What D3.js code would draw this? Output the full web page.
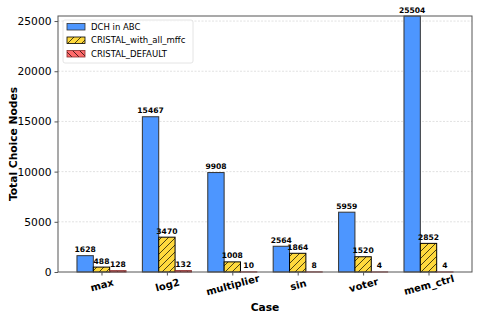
<!DOCTYPE html>
<html>
<head>
<meta charset="utf-8">
<script src="https://cdn.jsdelivr.net/npm/d3@7"></script>
<style>
  body { margin: 0; background: #fff; }
  svg { font-family: "DejaVu Sans", sans-serif; }
</style>
</head>
<body>
<svg id="chart" width="478" height="319"></svg>
<script>
const CASES = ["max", "log2", "multiplier", "sin", "voter", "mem_ctrl"]
const SERIES = ["DCH in ABC", "CRISTAL_with_all_mffc", "CRISTAL_DEFAULT"]
const DCH = [1628, 15467, 9908, 2564, 5959, 25504]
const ALL_MFFC = [488, 3470, 1008, 1864, 1520, 2852]
const DEFAULT = [128, 132, 10, 8, 4, 4]
const Y_TICKS = [0, 5000, 10000, 15000, 20000, 25000]

const VALUES = [DCH, ALL_MFFC, DEFAULT]
const FILLS = ["#4d96ff", "#ffd93d", "#ff6b6b"]
const EDGES = ["#333333", "#000000", "#8b2b2b"]
const HATCH = [null, "hatchFwd", "hatchBack"]

const svg = d3.select("#chart")
const PLOT_L = 58, PLOT_R = 472, PLOT_T = 16, PLOT_B = 272
const BAR_W = 0.25

const X_SCALE = d3.scaleLinear().domain([-0.665, 5.665]).range([PLOT_L, PLOT_R])
const Y_SCALE = d3.scaleLinear().domain([0, 25504]).range([PLOT_B, PLOT_T])

// hatch patterns
const defs = svg.append("defs")
function hatch(id, color, back) {
    const p = defs.append("pattern")
        .attr("id", id)
        .attr("patternUnits", "userSpaceOnUse")
        .attr("width", 7).attr("height", 7)
    p.append("rect").attr("width", 7).attr("height", 7).attr("fill", color)
    p.append("path").attr("d", back ? "M0,0 L7,7 M-7,0 L0,7 M0,-7 L7,0" : "M0,7 L7,0 M-7,7 L0,0 M7,7 L14,0")
        .attr("stroke", "#000").attr("stroke-width", 0.7)
}
hatch("hatchFwd", FILLS[1], false)
hatch("hatchBack", FILLS[2], true)

// grid
svg.append("g").selectAll("line")
    .data(Y_TICKS.slice(1))
    .join("line")
    .attr("x1", PLOT_L).attr("x2", PLOT_R)
    .attr("y1", d => Y_SCALE(d)).attr("y2", d => Y_SCALE(d))
    .attr("stroke", "#cccccc")
    .attr("stroke-width", 0.6)
    .attr("stroke-dasharray", "2,1.5")

// bars
VALUES.forEach((vals, s) => {
    const off = (s - 1) * BAR_W
    const g = svg.append("g")
    g.selectAll("rect")
        .data(vals)
        .join("rect")
        .attr("x", (d, i) => X_SCALE(i + off - BAR_W / 2))
        .attr("width", X_SCALE(BAR_W) - X_SCALE(0))
        .attr("y", d => Y_SCALE(d))
        .attr("height", d => PLOT_B - Y_SCALE(d))
        .attr("fill", HATCH[s] ? `url(#${HATCH[s]})` : FILLS[s])
        .attr("stroke", EDGES[s])
        .attr("stroke-width", 1)
    g.selectAll("text")
        .data(vals)
        .join("text")
        .attr("x", (d, i) => X_SCALE(i + off))
        .attr("y", d => Y_SCALE(d) - 3.5)
        .attr("text-anchor", "middle")
        .attr("font-size", 7.6)
        .attr("font-weight", "bold")
        .attr("fill", "#000")
        .text(d => d)
})

// frame
svg.append("rect")
    .attr("x", PLOT_L).attr("y", PLOT_T)
    .attr("width", PLOT_R - PLOT_L).attr("height", PLOT_B - PLOT_T)
    .attr("fill", "none")
    .attr("stroke", "#555")
    .attr("stroke-width", 1)

// y axis
const yAxis = svg.append("g")
    .attr("transform", `translate(${PLOT_L},0)`)
    .call(d3.axisLeft(Y_SCALE).tickValues(Y_TICKS).tickFormat(d3.format("d")).tickSize(3.5).tickPadding(3))
yAxis.select(".domain").remove()
yAxis.selectAll("line").attr("stroke", "#555")
yAxis.selectAll("text").attr("font-size", 10.7).attr("font-family", "DejaVu Sans").attr("fill", "#000")

// x axis
const xAxis = svg.append("g")
    .attr("transform", `translate(0,${PLOT_B})`)
    .call(d3.axisBottom(X_SCALE).tickValues(d3.range(CASES.length)).tickFormat(i => CASES[i]).tickSize(3.5))
xAxis.select(".domain").remove()
xAxis.selectAll("line").attr("stroke", "#555")
xAxis.selectAll("text")
    .attr("font-size", 10)
    .attr("font-weight", "bold")
    .attr("font-family", "DejaVu Sans")
    .attr("fill", "#000")
    .attr("text-anchor", "middle")
    .attr("y", 0)
    .attr("dy", "0.35em")
    .attr("transform", "translate(0,13) rotate(-15)")

// axis titles
svg.append("text")
    .attr("x", (PLOT_L + PLOT_R) / 2).attr("y", 311)
    .attr("text-anchor", "middle")
    .attr("font-size", 10.7)
    .attr("font-weight", "bold")
    .text("Case")
svg.append("text")
    .attr("transform", `translate(16.5,${(PLOT_T + PLOT_B) / 2}) rotate(-90)`)
    .attr("text-anchor", "middle")
    .attr("font-size", 10.7)
    .attr("font-weight", "bold")
    .text("Total Choice Nodes")

// legend
const legend = svg.append("g").attr("transform", "translate(63,20)")
legend.append("rect")
    .attr("width", 130).attr("height", 43)
    .attr("rx", 2)
    .attr("fill", "#fff").attr("fill-opacity", 0.8)
    .attr("stroke", "#dddddd").attr("stroke-width", 0.8)
SERIES.forEach((name, s) => {
    const y = 7 + s * 13.5
    legend.append("rect")
        .attr("x", 4).attr("y", y - 3.5)
        .attr("width", 18).attr("height", 6.5)
        .attr("fill", HATCH[s] ? `url(#${HATCH[s]})` : FILLS[s])
        .attr("stroke", EDGES[s]).attr("stroke-width", 0.8)
    legend.append("text")
        .attr("x", 28).attr("y", y)
        .attr("dy", "0.35em")
        .attr("font-size", 8.5)
        .text(name)
})
</script>
</body>
</html>
